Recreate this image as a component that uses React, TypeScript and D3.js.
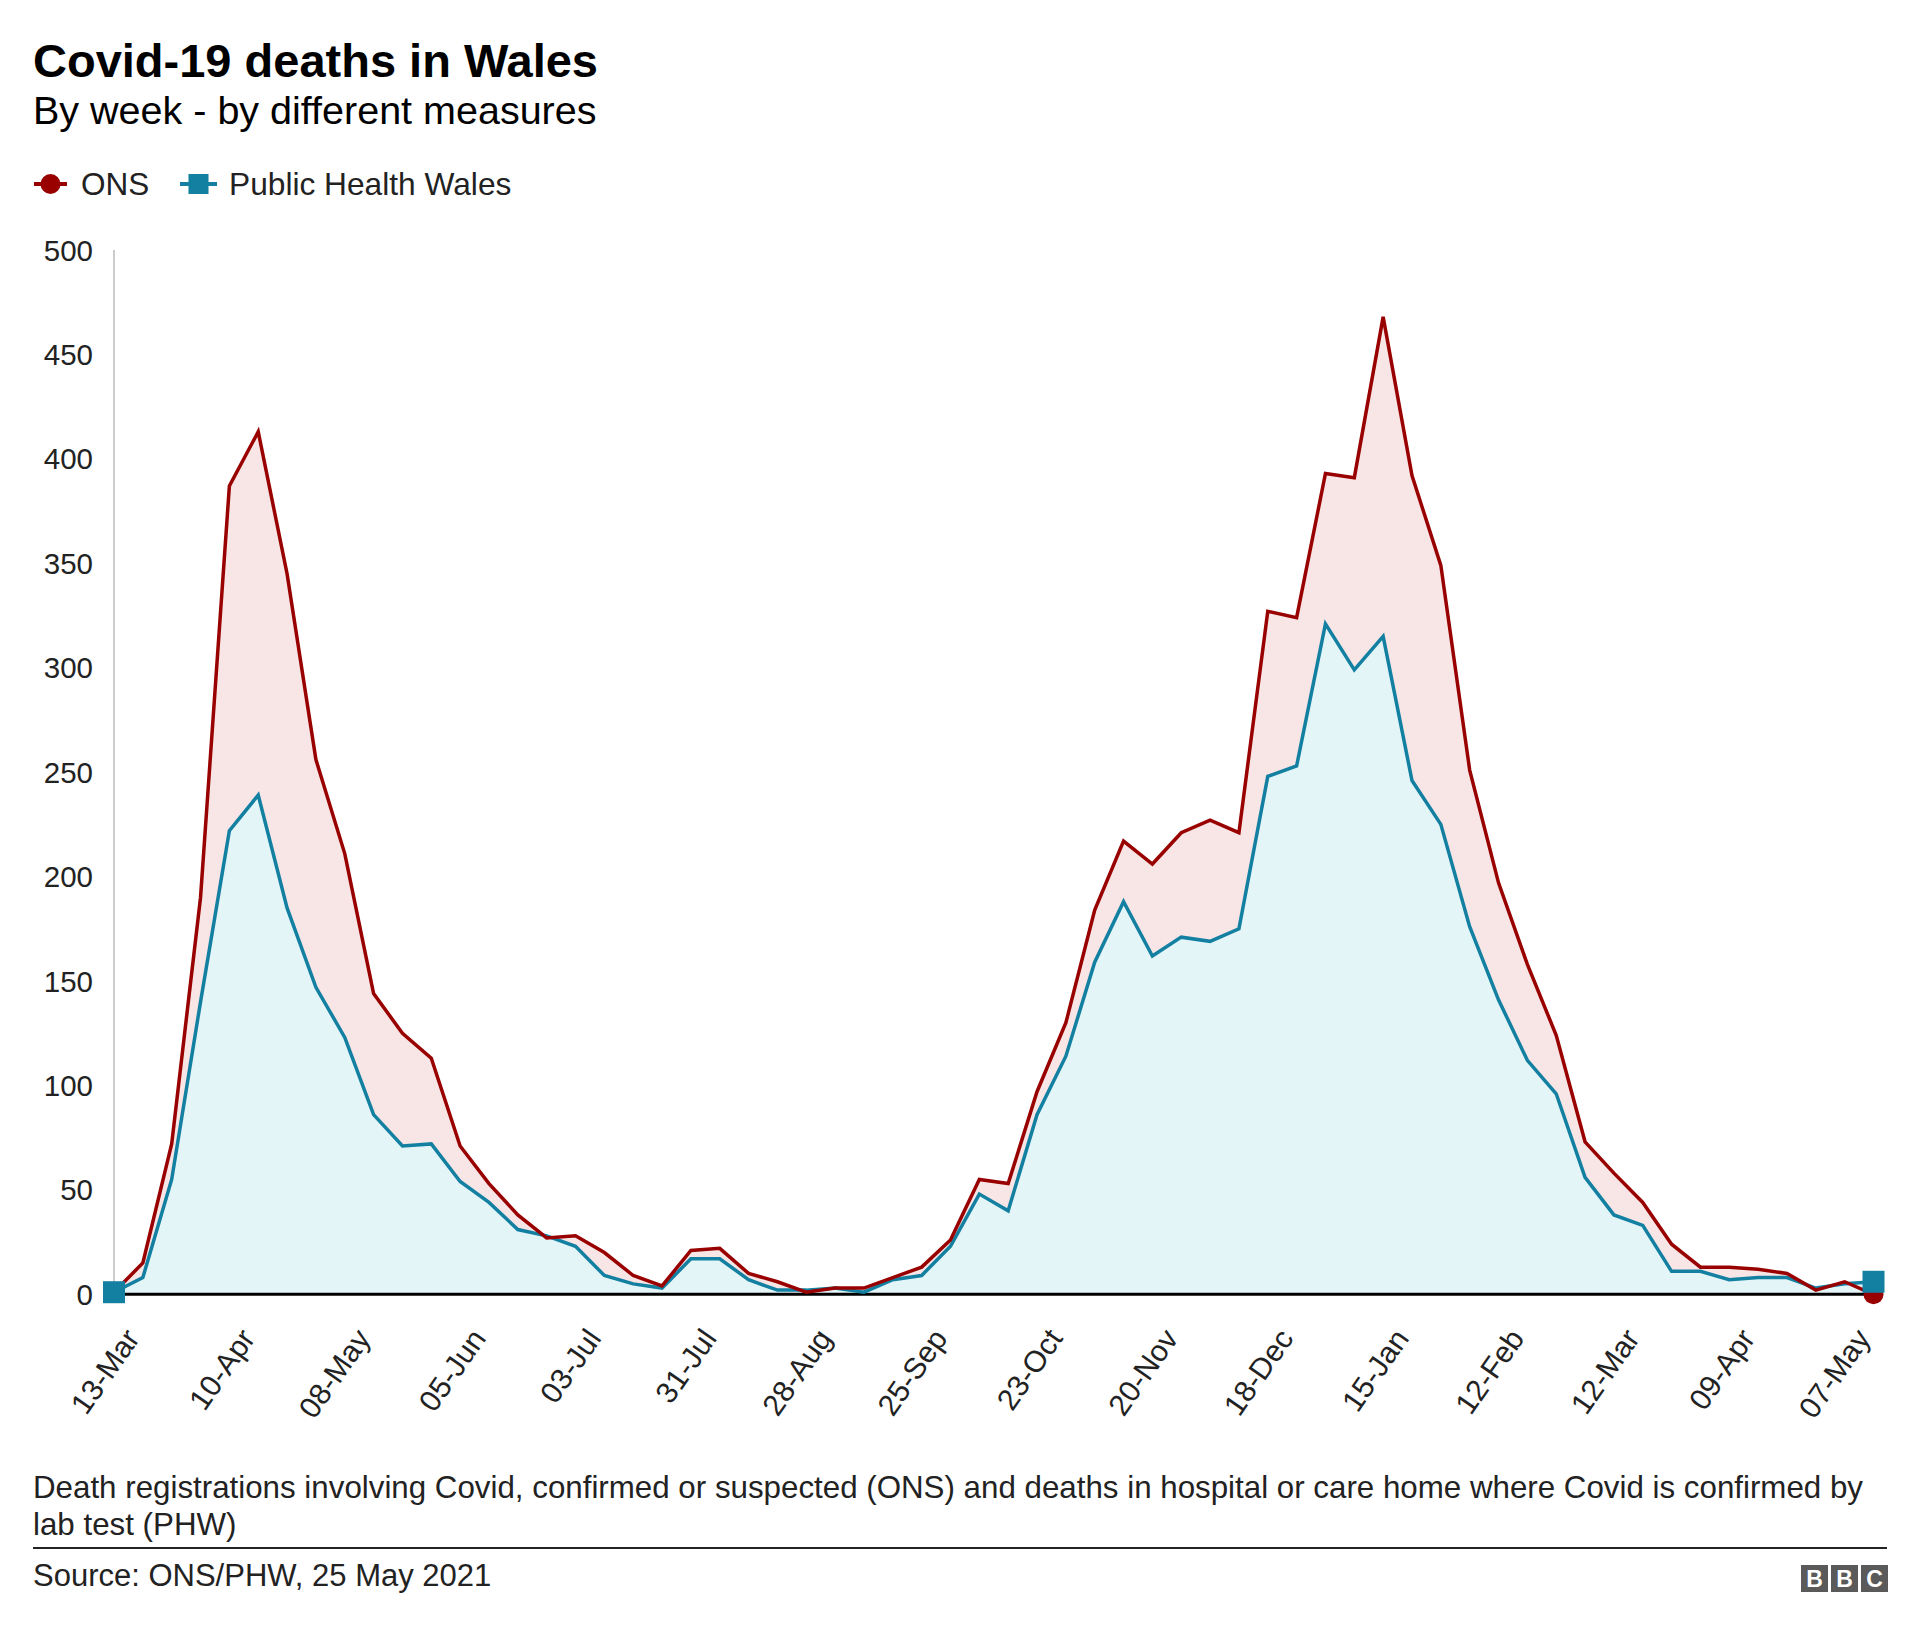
import React from "react";
import * as d3 from "d3";

const weeks = [
  "13-Mar","20-Mar","27-Mar","03-Apr","10-Apr","17-Apr","24-Apr","01-May","08-May","15-May","22-May","29-May",
  "05-Jun","12-Jun","19-Jun","26-Jun","03-Jul","10-Jul","17-Jul","24-Jul","31-Jul","07-Aug","14-Aug","21-Aug",
  "28-Aug","04-Sep","11-Sep","18-Sep","25-Sep","02-Oct","09-Oct","16-Oct","23-Oct","30-Oct","06-Nov","13-Nov",
  "20-Nov","27-Nov","04-Dec","11-Dec","18-Dec","25-Dec","01-Jan","08-Jan","15-Jan","22-Jan","29-Jan","05-Feb",
  "12-Feb","19-Feb","26-Feb","05-Mar","12-Mar","19-Mar","26-Mar","02-Apr","09-Apr","16-Apr","23-Apr","30-Apr",
  "07-May","14-May"
];

const onsValues = [
  1, 15, 72, 190, 387, 413, 345, 256, 211, 144, 125, 113,
  71, 53, 38, 27, 28, 20, 9, 4, 21, 22, 10, 6,
  1, 3, 3, 8, 13, 26, 55, 53, 97, 130, 184, 217,
  206, 221, 227, 221, 327, 324, 393, 391, 468, 392, 349, 251,
  197, 158, 124, 73, 58, 44, 24, 13, 13, 12, 10, 2,
  6, 0
];

const phwValues = [
  1, 8, 55, 140, 222, 239, 185, 147, 123, 86, 71, 72,
  54, 44, 31, 28, 23, 9, 5, 3, 17, 17, 7, 2,
  2, 3, 1, 7, 9, 23, 48, 40, 86, 114, 159, 188,
  162, 171, 169, 175, 248, 253, 321, 299, 315, 246, 225, 176,
  141, 112, 96, 56, 38, 33, 11, 11, 7, 8, 8, 3,
  5, 6
];

const tickLabels = [
  "13-Mar","10-Apr","08-May","05-Jun","03-Jul","31-Jul","28-Aug","25-Sep",
  "23-Oct","20-Nov","18-Dec","15-Jan","12-Feb","12-Mar","09-Apr","07-May"
];
const tickWeekIndex = [0, 4, 8, 12, 16, 20, 24, 28, 32, 36, 40, 44, 48, 52, 56, 60];

const yTicks = [0, 50, 100, 150, 200, 250, 300, 350, 400, 450, 500];

const seriesNames = ["ONS", "Public Health Wales"];

const RED = "#990000";
const BLUE = "#1380a1";
const FONT = "'Liberation Sans', Arial, Helvetica, sans-serif";

export default function App() {
  const W = 1920;
  const H = 1634;
  const x = d3.scalePoint<string>().domain(weeks).range([114, 1873.5]);
  const y = d3.scaleLinear().domain([0, 500]).range([1294.3, 250]);

  const onsData = weeks.map((w, i) => ({ w, v: onsValues[i] }));
  const phwData = weeks.map((w, i) => ({ w, v: phwValues[i] }));

  const area = d3
    .area<{ w: string; v: number }>()
    .x((d) => x(d.w) as number)
    .y0(y(0))
    .y1((d) => y(d.v));
  const line = d3
    .line<{ w: string; v: number }>()
    .x((d) => x(d.w) as number)
    .y((d) => y(d.v));

  const first = 0;
  const last = weeks.length - 1;
  const sq = 22;

  return (
    <svg width={W} height={H} style={{ display: "block", background: "#fff" }} fontFamily={FONT}>
      <style>{`body{margin:0}`}</style>
      <text x={33} y={77} fontSize={47} fontWeight="bold" fill="#000">
        Covid-19 deaths in Wales
      </text>
      <text x={33} y={124} fontSize={39.5} fill="#000">
        By week - by different measures
      </text>

      {/* legend */}
      <g>
        <line x1={34} x2={67} y1={184} y2={184} stroke={RED} strokeWidth={4} />
        <circle cx={50.5} cy={184} r={10} fill={RED} />
        <text x={81} y={184} dy="0.36em" fontSize={31.5} fill="#222">
          {seriesNames[0]}
        </text>
        <line x1={180} x2={217} y1={184} y2={184} stroke={BLUE} strokeWidth={4} />
        <rect x={198.5 - 10} y={174} width={20} height={20} fill={BLUE} />
        <text x={229} y={184} dy="0.36em" fontSize={31.7} fill="#222">
          {seriesNames[1]}
        </text>
      </g>

      {/* y axis */}
      <line x1={114} x2={114} y1={250} y2={y(0)} stroke="#cccccc" strokeWidth={2} />
      {yTicks.map((t) => (
        <text key={t} x={93} y={y(t)} dy="0.36em" textAnchor="end" fontSize={29.5} fill="#222">
          {t}
        </text>
      ))}

      {/* areas */}
      <path d={area(onsData) || ""} fill="#f8e5e6" />
      <path d={area(phwData) || ""} fill="#e4f5f8" />

      {/* baseline */}
      <line x1={114} x2={1873.5} y1={y(0)} y2={y(0)} stroke="#000" strokeWidth={3} />

      {/* lines */}
      <path d={line(phwData) || ""} fill="none" stroke={BLUE} strokeWidth={3.5} strokeLinejoin="miter" />
      <path d={line(onsData) || ""} fill="none" stroke={RED} strokeWidth={3.5} strokeLinejoin="miter" />

      {/* markers */}
      <circle cx={x(weeks[first])} cy={y(onsValues[first])} r={10} fill={RED} />
      <circle cx={x(weeks[last])} cy={y(onsValues[last])} r={10} fill={RED} />
      <rect x={(x(weeks[first]) as number) - sq / 2} y={y(phwValues[first]) - sq / 2} width={sq} height={sq} fill={BLUE} />
      <rect x={(x(weeks[last]) as number) - sq / 2} y={y(phwValues[last]) - sq / 2} width={sq} height={sq} fill={BLUE} />

      {/* x tick labels */}
      {tickLabels.map((lab, k) => {
        const px = x(weeks[tickWeekIndex[k]]) as number;
        return (
          <text
            key={lab + k}
            transform={`translate(${px + 18},${y(0) + 38}) rotate(-55)`}
            textAnchor="end"
            dy="0.36em"
            fontSize={30}
            fill="#222"
          >
            {lab}
          </text>
        );
      })}

      {/* footer */}
      <text x={33} y={1498} fontSize={31.3} fill="#222">
        Death registrations involving Covid, confirmed or suspected (ONS) and deaths in hospital or care home where Covid is confirmed by
      </text>
      <text x={33} y={1535} fontSize={31.3} fill="#222">
        lab test (PHW)
      </text>
      <line x1={33} x2={1887} y1={1548} y2={1548} stroke="#222" strokeWidth={2} />
      <text x={33} y={1586} fontSize={31} fill="#222">
        Source: ONS/PHW, 25 May 2021
      </text>
      {["B", "B", "C"].map((c, i) => (
        <g key={i}>
          <rect x={1801 + i * 30} y={1565} width={27} height={27} fill="#5a5a5a" />
          <text x={1801 + i * 30 + 13.5} y={1578.5} dy="0.36em" textAnchor="middle" fontSize={23} fontWeight="bold" fill="#fff">
            {c}
          </text>
        </g>
      ))}
    </svg>
  );
}
